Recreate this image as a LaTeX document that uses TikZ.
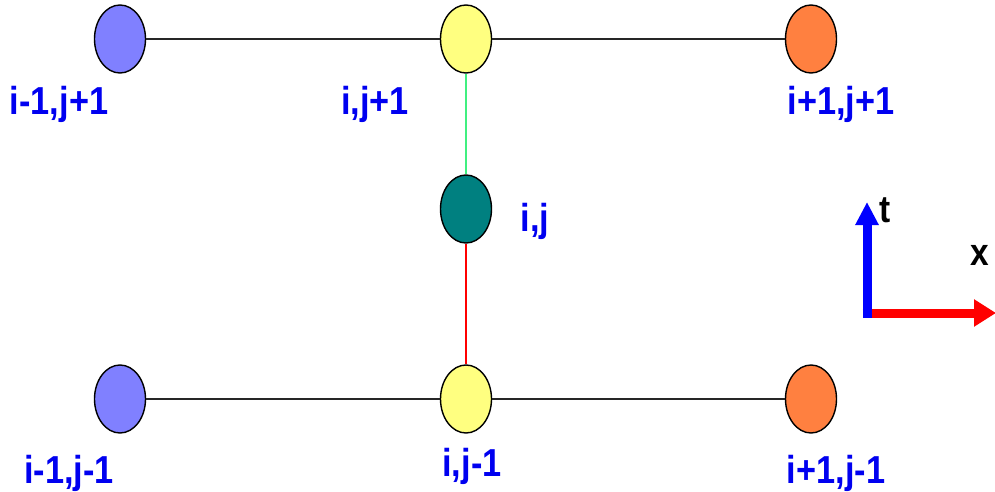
\documentclass[tikz,border=0pt]{standalone}
\usepackage{fontspec}
\usetikzlibrary{arrows.meta, shapes.geometric}
\newfontfamily\lblfont[FakeStretch=0.88]{Liberation Sans}
\definecolor{ptblue}{HTML}{8080FF}
\definecolor{ptyellow}{HTML}{FFFF80}
\definecolor{ptorange}{HTML}{FF8040}
\definecolor{ptteal}{HTML}{008080}
\definecolor{lblblue}{HTML}{0000F0}
\definecolor{lnkgreen}{HTML}{40F080}
\def\xLft{120}
\def\xMid{466}
\def\xRgt{811}
\def\yTop{39}
\def\yCen{209}
\def\yBot{399}
\tikzset{
  gridpt/.style={ellipse, draw=black, line width=1.4pt, minimum width=51pt, minimum height=68pt, inner sep=0pt},
  gridlbl/.style={anchor=base, text=lblblue, font=\lblfont\bfseries\fontsize{39}{39}\selectfont, inner sep=0pt},
  axlbl/.style={anchor=base, text=black, font=\lblfont\bfseries\fontsize{38}{38}\selectfont, inner sep=0pt},
  rowline/.style={line width=2pt, black!85},
  axarrow/.style={line width=9pt, -{Triangle[length=22pt, width=26pt]}},
}
\begin{document}
\begin{tikzpicture}[x=1pt, y=-1pt]
  \useasboundingbox (0,0) rectangle (995,492);

  % top row
  \node[gridpt, fill=ptblue] (ul) at (\xLft,\yTop) {};
  \node[gridpt, fill=ptyellow] (um) at (\xMid,\yTop) {};
  \node[gridpt, fill=ptorange] (ur) at (\xRgt,\yTop) {};
  % centre
  \node[gridpt, fill=ptteal] (cc) at (\xMid,\yCen) {};
  % bottom row
  \node[gridpt, fill=ptblue] (bl) at (\xLft,\yBot) {};
  \node[gridpt, fill=ptyellow] (bm) at (\xMid,\yBot) {};
  \node[gridpt, fill=ptorange] (br) at (\xRgt,\yBot) {};

  \draw[rowline] (ul) -- (um);
  \draw[rowline] (um) -- (ur);
  \draw[rowline] (bl) -- (bm);
  \draw[rowline] (bm) -- (br);
  \draw[line width=1.5pt, lnkgreen] (um) -- (cc);
  \draw[line width=1.5pt, red] (cc) -- (bm);

  % labels
  \node[gridlbl] (ullbl) at (59,114) {i-1,j+1};
  \node[gridlbl] (umlbl) at (375,114) {i,j+1};
  \node[gridlbl] (urlbl) at (841,114) {i+1,j+1};
  \node[gridlbl] (cclbl) at (535,231) {i,j};
  \node[gridlbl] (bllbl) at (69,483) {i-1,j-1};
  \node[gridlbl] (bmlbl) at (472,476) {i,j-1};
  \node[gridlbl] (brlbl) at (836,483) {i+1,j-1};

  % axes
  \coordinate (org) at (867,313);
  \coordinate (tend) at (867,202);
  \coordinate (xend) at (996,313);
  \draw[axarrow, red] ([xshift=-4.5pt]org) -- (xend);
  \draw[axarrow, blue, -{Triangle[length=23pt, width=22pt]}] ([yshift=-4.5pt]org) -- (tend);
  \node[axlbl] (tlbl) at (885,222) {t};
  \node[axlbl] (xlbl) at (980,265) {x};
\end{tikzpicture}
\end{document}
